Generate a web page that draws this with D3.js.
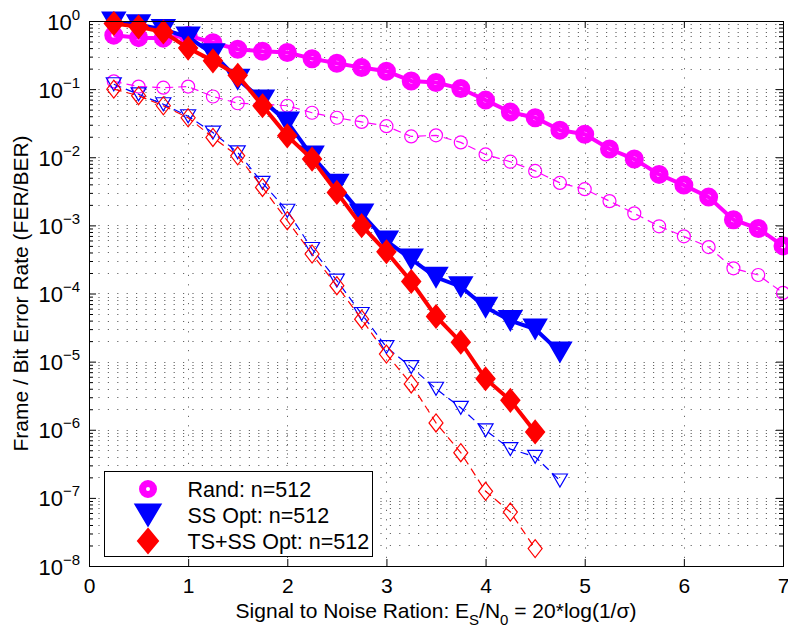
<!DOCTYPE html>
<html lang="en">
<head>
    <meta charset="utf-8">
    <title>FER/BER vs SNR</title>
    <script type="text/javascript" src="https://d3js.org/d3.v7.min.js"></script>
    <style>
        body { margin: 0; background: #fff; }
        svg text { font-family: "Liberation Sans", Arial, Helvetica, sans-serif; fill: #000; }
        .grid line { stroke: #666; stroke-width: 1; stroke-dasharray: 1.2,8.2; }
        .axis path.domain { display: none; }
        .axis line { stroke: #000; }
    </style>
</head>
<body>
    <div id="chart"></div>
    <script type="text/javascript">
        // SNR values (Es/N0, dB)
        const snr = [0.25, 0.5, 0.75, 1, 1.25, 1.5, 1.75, 2, 2.25, 2.5, 2.75, 3, 3.25, 3.5,
                     3.75, 4, 4.25, 4.5, 4.75, 5, 5.25, 5.5, 5.75, 6, 6.25, 6.5, 6.75, 7];

        // Rand: n=512
        const randFER = [0.62, 0.57, 0.56, 0.61, 0.48, 0.385, 0.36, 0.345, 0.28, 0.24, 0.207, 0.183, 0.132, 0.125,
                         0.102, 0.069, 0.046, 0.038, 0.025, 0.0218, 0.0132, 0.0094, 0.0056, 0.0039, 0.0026, 1.21e-3, 9.0e-4, 5.0e-4];
        const randBER = [0.13, 0.109, 0.105, 0.109, 0.078, 0.062, 0.060, 0.057, 0.045, 0.038, 0.033, 0.0286, 0.0202, 0.021,
                         0.0165, 0.011, 0.0086, 0.0063, 0.0042, 0.0034, 2.27e-3, 1.5e-3, 9.7e-4, 6.9e-4, 4.8e-4, 2.34e-4, 1.87e-4, 1.02e-4];

        // SS Opt: n=512
        const ssFER = [0.97, 0.88, 0.75, 0.58, 0.33, 0.14, 0.069, 0.033, 0.0104, 4.0e-3, 1.47e-3, 5.9e-4, 3.2e-4, 1.73e-4,
                       1.26e-4, 6.3e-5, 4.0e-5, 3.0e-5, 1.38e-5];
        const ssBER = [0.118, 0.084, 0.060, 0.040, 0.023, 0.0118, 4.2e-3, 1.64e-3, 4.5e-4, 1.55e-4, 5.0e-5, 1.63e-5, 8.3e-6, 4.0e-6,
                       2.1e-6, 9.8e-7, 5.2e-7, 4.0e-7, 1.8e-7];

        // TS+SS Opt: n=512
        const tsFER = [0.92, 0.82, 0.69, 0.40, 0.26, 0.16, 0.057, 0.0206, 9.4e-3, 3.05e-3, 9.9e-4, 4.1e-4, 1.5e-4, 4.6e-5,
                       1.93e-5, 5.6e-6, 2.7e-6, 9.3e-7];
        const tsBER = [0.10, 0.080, 0.057, 0.038, 0.0195, 0.0105, 3.6e-3, 1.17e-3, 3.8e-4, 1.3e-4, 4.2e-5, 1.29e-5, 4.7e-6, 1.26e-6,
                       4.6e-7, 1.25e-7, 6.2e-8, 1.8e-8];

        // axis ticks
        const xTicks = [0, 1, 2, 3, 4, 5, 6, 7];
        const decades = [0, -1, -2, -3, -4, -5, -6, -7, -8];
        const minorSteps = [2, 3, 4, 5, 6, 7, 8, 9];

        const width = 788;
        const height = 632;
        const box = {left: 89, right: 783, top: 21, bottom: 566};

        const svg = d3.select("#chart")
            .append("svg")
            .attr("width", width)
            .attr("height", height);

        const x = d3.scaleLinear().domain([0, 7]).range([box.left, box.right]);
        const y = d3.scaleLog().domain([1e-8, 1]).range([box.bottom, box.top]);

        const yMajor = decades.map(e => Math.pow(10, e));
        const yMinor = decades.slice(1).flatMap(e => minorSteps.map(m => m * Math.pow(10, e)));

        // dotted grid
        const grid = svg.append("g").attr("class", "grid");
        grid.selectAll("line.h")
            .data(yMajor.concat(yMinor))
            .enter()
            .append("line")
                .attr("class", "h")
                .attr("x1", box.left)
                .attr("x2", box.right)
                .attr("y1", d => Math.round(y(d)) + 0.5)
                .attr("y2", d => Math.round(y(d)) + 0.5);
        grid.selectAll("line.v")
            .data(xTicks.slice(1, -1))
            .enter()
            .append("line")
                .attr("class", "v")
                .attr("x1", d => Math.round(x(d)) + 0.5)
                .attr("x2", d => Math.round(x(d)) + 0.5)
                .attr("y1", box.top)
                .attr("y2", box.bottom);

        // ticks (inward, matlab style)
        svg.append("g").attr("class", "axis")
            .attr("transform", `translate(${box.left},0)`)
            .call(d3.axisLeft(y).tickValues(yMajor).tickSize(-7).tickFormat(""));
        svg.append("g").attr("class", "axis")
            .attr("transform", `translate(${box.left},0)`)
            .call(d3.axisLeft(y).tickValues(yMinor).tickSize(-4).tickFormat(""));
        svg.append("g").attr("class", "axis")
            .attr("transform", `translate(${box.right},0)`)
            .call(d3.axisRight(y).tickValues(yMajor).tickSize(-7).tickFormat(""));
        svg.append("g").attr("class", "axis")
            .attr("transform", `translate(${box.right},0)`)
            .call(d3.axisRight(y).tickValues(yMinor).tickSize(-4).tickFormat(""));
        svg.append("g").attr("class", "axis")
            .attr("transform", `translate(0,${box.top})`)
            .call(d3.axisTop(x).tickValues(xTicks).tickSize(-7).tickFormat(""));
        svg.append("g").attr("class", "axis x")
            .attr("transform", `translate(0,${box.bottom})`)
            .call(d3.axisBottom(x).tickValues(xTicks).tickSize(-7).tickPadding(12).tickFormat(d3.format("d")))
            .attr("font-size", 21);

        // y labels 10^k
        const yLabels = svg.append("g")
            .selectAll("text")
            .data(decades)
            .enter()
            .append("text")
                .attr("x", 80)
                .attr("y", d => y(Math.pow(10, d)) + 8.5)
                .attr("text-anchor", "end")
                .attr("font-size", 22);
        yLabels.append("tspan").text("10");
        yLabels.append("tspan")
            .attr("dy", -10)
            .attr("font-size", 15)
            .text(d => d === 0 ? "0" : "\u2212" + (-d));

        // series
        function triDown(w, h) { return `M${-w / 2},${-h / 2}L${w / 2},${-h / 2}L0,${h / 2}Z`; }
        function diamond(w, h) { return `M0,${-h / 2}L${w / 2},0L0,${h / 2}L${-w / 2},0Z`; }
        function circle(r) { return d3.arc()({innerRadius: 0, outerRadius: r, startAngle: 0, endAngle: 2 * Math.PI}); }

        const series = [
            {name: "Rand: n=512", color: "#ff00ff", fer: randFER, ber: randBER,
             big: circle(6), bigFill: "none", bigStroke: 7, small: circle(6.5), legend: circle(5.5)},
            {name: "SS Opt: n=512", color: "#0000ff", fer: ssFER, ber: ssBER,
             big: triDown(22, 19), bigFill: "#0000ff", bigStroke: 2, small: triDown(15, 13), legend: triDown(25, 21)},
            {name: "TS+SS Opt: n=512", color: "#ff0000", fer: tsFER, ber: tsBER,
             big: diamond(18, 22), bigFill: "#ff0000", bigStroke: 2, small: diamond(14, 18), legend: diamond(20, 24)}
        ];

        const line = d3.line()
            .x(d => x(d[0]))
            .y(d => y(d[1]));

        const plot = svg.append("g");

        series.forEach(s => {
            const berPts = s.ber.map((v, i) => [snr[i], v]);
            const ferPts = s.fer.map((v, i) => [snr[i], v]);

            // BER: thin dashed with open markers
            plot.append("path")
                .datum(berPts)
                .attr("d", line)
                .attr("fill", "none")
                .attr("stroke", s.color)
                .attr("stroke-width", 1.2)
                .attr("stroke-dasharray", "8,5");
            plot.append("g")
                .selectAll("path")
                .data(berPts)
                .enter()
                .append("path")
                    .attr("transform", d => `translate(${x(d[0])},${y(d[1])})`)
                    .attr("d", s.small)
                    .attr("fill", "none")
                    .attr("stroke", s.color)
                    .attr("stroke-width", 1.2);

            // FER: thick solid with big markers
            plot.append("path")
                .datum(ferPts)
                .attr("d", line)
                .attr("fill", "none")
                .attr("stroke", s.color)
                .attr("stroke-width", 4);
            plot.append("g")
                .selectAll("path")
                .data(ferPts)
                .enter()
                .append("path")
                    .attr("transform", d => `translate(${x(d[0])},${y(d[1])})`)
                    .attr("d", s.big)
                    .attr("fill", s.bigFill)
                    .attr("stroke", s.color)
                    .attr("stroke-width", s.bigStroke)
                    .attr("stroke-linejoin", "miter");
        });

        // axes box
        svg.append("rect")
            .attr("x", box.left + 0.5)
            .attr("y", box.top + 0.5)
            .attr("width", box.right - box.left)
            .attr("height", box.bottom - box.top)
            .attr("fill", "none")
            .attr("stroke", "#000")
            .attr("stroke-width", 1);

        // legend
        const legend = svg.append("g").attr("transform", "translate(104.5,471.5)");
        legend.append("rect")
            .attr("width", 268)
            .attr("height", 85)
            .attr("fill", "#fff")
            .attr("stroke", "#000");
        const rows = legend.selectAll("g.row")
            .data(series)
            .enter()
            .append("g")
                .attr("class", "row")
                .attr("transform", (d, i) => `translate(0,${17.5 + i * 26})`);
        rows.append("path")
            .attr("transform", "translate(43.5,0)")
            .attr("d", d => d.legend)
            .attr("fill", d => d.bigFill)
            .attr("stroke", d => d.color)
            .attr("stroke-width", d => d.bigStroke);
        rows.append("text")
            .attr("x", 83)
            .attr("y", 7.5)
            .attr("font-size", 21.5)
            .text(d => d.name);

        // axis titles
        const xTitle = svg.append("text")
            .attr("x", (box.left + box.right) / 2)
            .attr("y", 618)
            .attr("text-anchor", "middle")
            .attr("font-size", 21);
        xTitle.append("tspan").text("Signal to Noise Ration: E");
        xTitle.append("tspan").attr("dy", 7).attr("font-size", 15).text("S");
        xTitle.append("tspan").attr("dy", -7).text("/N");
        xTitle.append("tspan").attr("dy", 7).attr("font-size", 15).text("0");
        xTitle.append("tspan").attr("dy", -7).text(" = 20*log(1/\u03c3)");

        svg.append("text")
            .attr("transform", `translate(28,${(box.top + box.bottom) / 2}) rotate(-90)`)
            .attr("text-anchor", "middle")
            .attr("font-size", 21)
            .text("Frame / Bit Error Rate (FER/BER)");
    </script>
</body>
</html>
